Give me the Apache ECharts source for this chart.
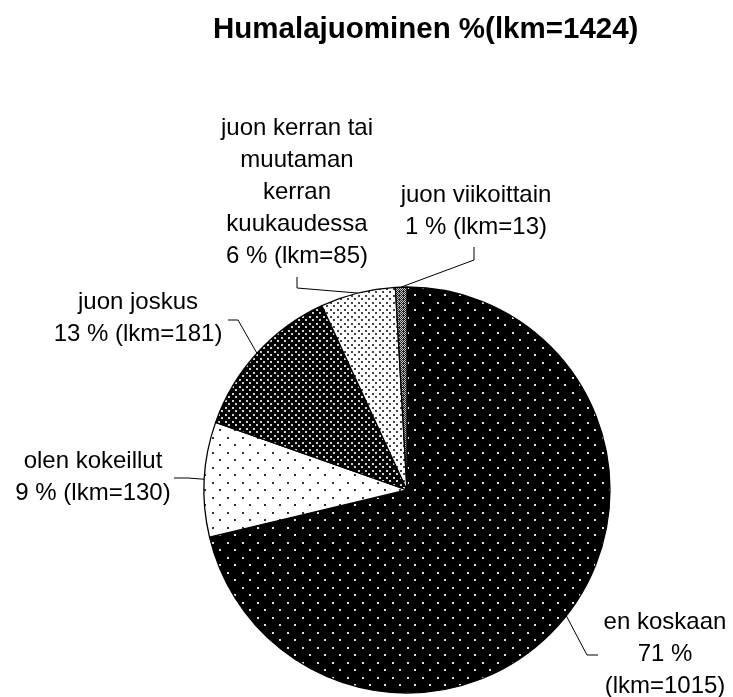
<!DOCTYPE html>
<html>
<head>
<meta charset="utf-8">
<script src="https://cdn.jsdelivr.net/npm/echarts@6/dist/echarts.min.js"></script>
<style>html,body{margin:0;padding:0;background:#fff;}#c{width:733px;height:697px;}</style>
</head>
<body>
<div id="c"></div>
<script>
// ---- data ----
const titleText = 'Humalajuominen %(lkm=1424)';
const categories = ['en koskaan', 'olen kokeillut', 'juon joskus', 'juon kerran tai muutaman kerran kuukaudessa', 'juon viikoittain'];
const counts = [1015, 130, 181, 85, 13];
const labelLines = [
  ['en koskaan'],
  ['olen kokeillut'],
  ['juon joskus'],
  ['juon kerran tai', 'muutaman', 'kerran', 'kuukaudessa'],
  ['juon viikoittain']
];

// ---- layout (label anchors and leader-line bends, in px) ----
const labelPos = [
  {x: 665, y: 654, bend: [[587, 655], [598, 655]]},
  {x: 93,  y: 477, bend: [[188, 478], [174, 478]]},
  {x: 138, y: 318, bend: [[238, 320], [228, 320]]},
  {x: 297, y: 192, bend: [[297, 288], [297, 277]]},
  {x: 476, y: 211, bend: [[474, 260], [474, 247]]}
];

function makePattern(w, h, bg, dotColor, dots, size) {
  const c = document.createElement('canvas');
  c.width = w; c.height = h;
  const g = c.getContext('2d');
  g.fillStyle = bg; g.fillRect(0, 0, w, h);
  g.fillStyle = dotColor;
  dots.forEach(d => g.fillRect(d[0], d[1], size, size));
  return {image: c, repeat: 'repeat'};
}
function makeHatch() {
  const c = document.createElement('canvas');
  c.width = 4; c.height = 4;
  const g = c.getContext('2d');
  g.fillStyle = '#222'; g.fillRect(0, 0, 4, 4);
  g.fillStyle = '#c8c8c8';
  [[0,0],[2,0],[1,1],[3,1],[0,2],[2,2],[1,3]].forEach(d => g.fillRect(d[0], d[1], 1, 1));
  return {image: c, repeat: 'repeat'};
}
const patterns = [
  makePattern(15, 15, '#000', '#e0e0e0', [[2, 2], [9, 9]], 2),
  makePattern(15, 15, '#fff', '#333', [[2, 2], [9, 9]], 2),
  makePattern(7, 7, '#000', '#d0d0d0', [[1, 1], [4, 4]], 2),
  makePattern(7, 7, '#fff', '#444', [[1, 1], [4, 4]], 2),
  makeHatch()
];

const chart = echarts.init(document.getElementById('c'), null, {renderer: 'canvas'});
chart.setOption({
  animation: false,
  backgroundColor: '#fff',
  title: {
    text: titleText,
    left: 213, top: 15, padding: 0,
    textStyle: {fontFamily: 'Liberation Sans', fontWeight: 'bold', fontSize: 29.5, color: '#000'}
  },
  series: [{
    type: 'pie',
    center: [407, 490],
    radius: [0, 203],
    startAngle: 90,
    clockwise: true,
    avoidLabelOverlap: false,
    data: categories.map((n, i) => ({
      name: n, value: counts[i],
      itemStyle: {color: patterns[i], borderColor: '#000', borderWidth: 1.3}
    })),
    label: {
      show: true,
      position: 'outside',
      fontFamily: 'Liberation Sans',
      fontSize: 24,
      lineHeight: 32,
      color: '#000',
      align: 'center',
      formatter: p => {
        const pct = Math.round(p.percent) + ' %';
        const lines = labelLines[p.dataIndex].slice();
        if (p.dataIndex === 0) { lines.push(pct, '(lkm=' + p.value + ')'); }
        else { lines.push(pct + ' (lkm=' + p.value + ')'); }
        return lines.join('\n');
      }
    },
    labelLine: {show: true, lineStyle: {color: '#000', width: 1}},
    labelLayout: p => {
      const lp = labelPos[p.dataIndex];
      const edge = p.labelLinePoints ? p.labelLinePoints[0] : lp.bend[0];
      return {
        x: lp.x, y: lp.y, align: 'center', verticalAlign: 'middle',
        labelLinePoints: [edge, lp.bend[0], lp.bend[1]]
      };
    }
  }]
});
</script>
</body>
</html>
